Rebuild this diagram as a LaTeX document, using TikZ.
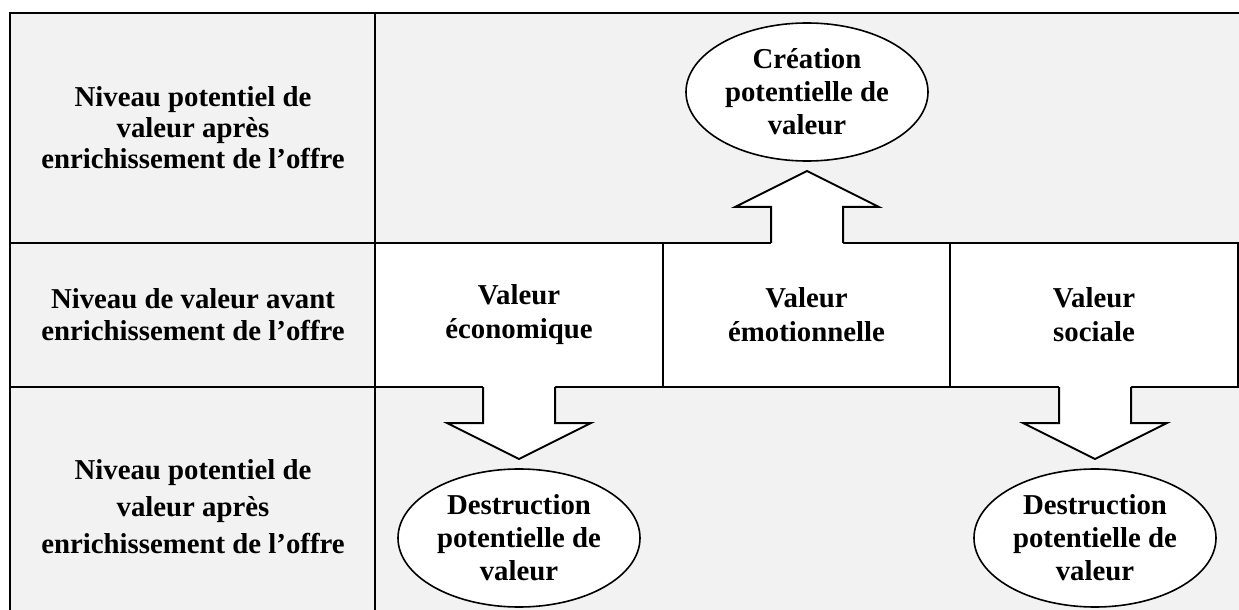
\documentclass[tikz,border=0pt]{standalone}
\usepackage{fontspec}
\setmainfont{Liberation Serif}
\usetikzlibrary{shapes.geometric}
\definecolor{cellgrey}{HTML}{F2F2F2}
\tikzset{
  every picture/.style={line width=1pt},
  rowtext/.style={font=\fontsize{14.4}{#1}\selectfont\bfseries, align=center, inner sep=0pt},
  rowtext/.default=15.5,
  valcell/.style={draw, fill=white, minimum width=144pt, minimum height=72pt, inner sep=0pt,
                  align=center, font=\fontsize{14.4}{17}\selectfont\bfseries},
  bubble/.style={ellipse, draw, fill=white, line width=0.8pt, inner sep=0pt, align=center,
                 minimum width=121pt, minimum height=69pt, font=\fontsize{14.4}{16.5}\selectfont\bfseries},
}

\begin{document}
\begin{tikzpicture}[x=0.5pt, y=-0.5pt]
  \useasboundingbox (0,0) rectangle (1239,610);
  % grey table body and its rules
  \fill[cellgrey] (10,13) rectangle (1239,610);
  \draw (10,610) -- (10,13) -- (1239,13);
  \draw (375,13) -- (375,610);
  \draw (10,243) -- (375,243);
  \draw (10,387) -- (375,387);
  % row titles
  \node[rowtext] (top) at (193,128) {Niveau potentiel de\\valeur après\\enrichissement de l’offre};
  \node[rowtext=16] (mid) at (193,315) {Niveau de valeur avant\\enrichissement de l’offre};
  \node[rowtext=18.5] (bot) at (193,507) {Niveau potentiel de\\valeur après\\enrichissement de l’offre};
  % the three kinds of value
  \node[valcell] (eco) at (519,315) {Valeur\\économique};
  \node[valcell] (emo) at (806.5,315) {Valeur\\émotionnelle};
  \node[valcell] (soc) at (1094,315) {Valeur\\sociale};
  % block arrows: #1 x, #2 y of the open end, #3 +1 down / -1 up
  \newcommand{\bigarrow}[3]{%
    \fill[white] ({#1-36},{#2-#3*1.5}) -- ({#1-36},{#2+#3*36}) -- ({#1-72},{#2+#3*36})
      -- ({#1},{#2+#3*72}) -- ({#1+72},{#2+#3*36}) -- ({#1+36},{#2+#3*36}) -- ({#1+36},{#2-#3*1.5}) -- cycle;
    \draw[line join=miter] ({#1-36},{#2}) -- ({#1-36},{#2+#3*36}) -- ({#1-72},{#2+#3*36})
      -- ({#1},{#2+#3*72}) -- ({#1+72},{#2+#3*36}) -- ({#1+36},{#2+#3*36}) -- ({#1+36},{#2});
  }
  \bigarrow{807}{243}{-1}
  \bigarrow{519}{387}{1}
  \bigarrow{1095}{387}{1}
  % gains and losses
  \node[bubble] (crea) at (807,92) {Création\\potentielle de\\valeur};
  \node[bubble] (loss1) at (519,538) {Destruction\\potentielle de\\valeur};
  \node[bubble] (loss2) at (1095,538) {Destruction\\potentielle de\\valeur};
\end{tikzpicture}
\end{document}
